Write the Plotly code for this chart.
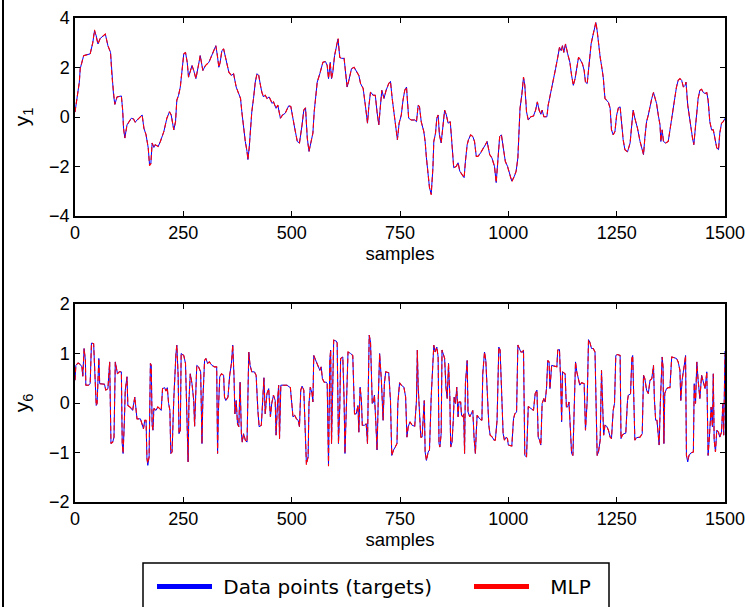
import plotly.graph_objects as go

W, H = 746, 607

# ---------------- data: y1 (top) ----------------
s1 = [0,5,10,12,20,35,41,45,49,53,58,70,76,82,85,89,92,97,107,110,112,115,120,130,135,139,147,155,159,164,169,172,175,178,182,185,192,197,205,212,218,222,228,232,235,239,243,247,251,255,259,262,266,270,274,279,284,289,295,301,309,316,322,325,328,332,335,339,343,348,355,361,366,372,378,382,385,389,393,397,399,402,405,408,412,416,420,424,428,431,435,439,443,448,455,458,464,468,474,479,485,493,498,501,507,513,518,524,528,532,536,540,545,549,552,555,559,565,572,578,582,585,589,592,595,599,603,607,611,615,621,625,628,632,638,644,649,655,659,665,670,675,678,682,688,693,697,701,705,708,713,718,724,728,732,736,739,744,748,753,757,761,765,767,770,776,784,788,792,795,799,805,808,811,815,818,822,826,828,832,835,838,841,845,849,853,857,861,866,870,874,880,884,888,893,898,901,905,908,913,918,922,926,930,936,941,947,951,957,962,968,972,976,980,984,988,993,998,1004,1008,1014,1018,1022,1025,1027,1031,1035,1038,1042,1046,1052,1058,1063,1067,1071,1075,1078,1082,1089,1092,1098,1104,1109,1114,1118,1122,1125,1128,1132,1137,1142,1146,1150,1154,1158,1162,1165,1171,1175,1178,1182,1186,1191,1195,1198,1202,1205,1208,1212,1215,1219,1223,1231,1235,1238,1242,1246,1250,1254,1258,1262,1265,1269,1275,1281,1285,1288,1292,1298,1304,1308,1312,1315,1319,1323,1327,1331,1335,1338,1342,1346,1350,1352,1355,1358,1363,1369,1373,1377,1381,1385,1388,1392,1396,1400,1404,1408,1410,1414,1418,1421,1425,1428,1432,1435,1438,1442,1446,1450,1454,1458,1461,1465,1469,1473,1477,1481,1485,1488,1492,1496,1500]
y1_target = [0.2,0.88,1.41,1.95,2.48,2.55,3.0,3.48,3.28,2.95,3.17,3.35,2.88,2.61,1.68,0.88,0.51,0.81,0.85,0.28,-0.45,-0.85,-0.32,-0.05,-0.08,-0.21,-0.05,0.08,-0.45,-0.72,-1.25,-1.92,-1.89,-1.05,-1.23,-1.12,-1.19,-0.99,-0.59,-0.05,0.21,0.08,-0.52,-0.19,0.68,0.88,1.21,1.95,2.55,2.61,2.21,1.61,1.81,2.08,1.88,1.55,2.01,2.48,1.88,2.08,2.21,2.48,2.75,2.88,2.55,2.01,2.21,2.68,2.75,2.35,1.81,1.68,1.75,1.21,0.88,0.75,0.21,-0.52,-0.99,-1.39,-1.72,-1.25,-0.32,0.21,0.75,1.41,1.75,1.68,1.28,1.01,0.81,0.88,0.75,0.81,0.55,0.61,0.35,0.48,-0.05,0.08,0.15,0.45,0.43,0.08,-0.45,-0.99,-1.05,-0.32,0.28,0.37,-0.85,-1.39,-0.92,-0.65,0.21,0.88,1.41,1.75,2.21,2.24,2.08,1.55,2.21,1.55,1.81,2.48,2.88,3.15,2.41,2.37,2.37,1.55,1.21,1.48,1.95,2.01,1.88,1.68,1.35,1.15,0.48,-0.25,0.41,1.01,0.88,0.88,0.21,-0.32,0.48,1.08,0.75,1.08,1.35,1.44,0.75,0.15,-0.32,-0.92,-0.25,0.08,0.68,1.08,1.21,0.61,-0.05,-0.12,-0.12,-0.19,0.48,0.41,-0.19,-0.59,-0.99,-1.65,-2.45,-2.85,-3.12,-2.05,-0.99,-0.65,-0.05,0.08,-0.72,-1.05,-0.39,0.28,0.08,-0.25,-0.19,-1.25,-2.05,-1.99,-1.85,-2.19,-2.32,-2.45,-1.79,-1.12,-0.92,-0.72,-0.79,-0.99,-1.59,-1.59,-1.45,-1.32,-1.12,-0.99,-1.52,-1.65,-1.99,-2.65,-1.79,-0.79,-0.72,-1.12,-1.79,-1.99,-2.39,-2.59,-2.39,-2.19,-1.65,-0.45,0.35,0.88,1.61,1.28,0.21,-0.12,0.01,0.04,0.28,0.61,0.28,0.11,0.28,0.01,0.01,0.48,0.95,1.55,1.95,2.41,2.81,2.68,2.88,2.61,2.95,2.55,2.21,1.68,1.28,1.55,2.08,2.41,2.35,2.15,1.88,1.41,1.35,2.21,2.95,3.28,3.55,3.81,3.48,2.88,2.41,2.08,1.61,0.75,0.59,0.35,-0.52,-0.72,-0.59,0.08,0.37,0.41,-0.32,-0.92,-1.32,-1.41,-1.05,-0.32,0.28,-0.05,-0.45,-0.99,-1.32,-1.52,-0.85,-0.19,0.08,0.48,0.75,0.99,0.81,0.55,0.08,-0.32,-0.99,-0.52,-0.99,-1.05,-0.99,-0.52,-0.12,0.21,0.75,1.21,1.48,1.55,1.48,1.21,1.28,1.41,0.48,-0.05,-0.45,-0.85,-1.12,-0.32,0.35,0.75,1.08,1.12,0.99,0.95,0.99,0.68,-0.19,-0.52,-0.52,-0.85,-1.25,-1.32,-0.65,-0.25,-0.19,-0.05]
# MLP output differs from targets only at a few visible points
y1_mlp_changes = {45: 3.52, 172: -1.97, 607: 3.18, 822: -3.15, 1008: -2.62, 1202: 3.84}

# ---------------- data: y6 (bottom) ----------------
s6 = [0,2,7,12,16,18,21,24,25,31,35,38,43,47,49,51,55,57,68,71,76,80,83,87,90,93,98,102,107,109,111,114,116,120,122,128,133,138,141,143,151,155,158,161,164,166,168,171,174,176,178,180,182,187,191,195,199,202,207,210,213,216,219,221,224,228,230,233,235,238,240,243,245,251,255,258,261,263,266,270,274,276,279,281,285,290,293,295,299,302,306,310,316,322,327,329,331,334,338,343,345,348,353,357,361,364,367,369,372,375,378,381,384,386,389,393,397,401,404,408,414,418,422,425,430,433,436,439,443,447,451,454,458,462,464,468,470,472,475,481,489,497,501,503,507,511,515,518,521,524,528,531,534,538,540,543,547,549,551,557,561,565,568,571,575,580,582,585,588,590,592,595,597,603,605,608,611,613,618,621,623,626,630,636,641,645,649,653,655,658,661,663,668,672,675,677,679,682,684,686,689,691,694,697,700,703,707,711,714,717,724,728,731,735,739,743,745,749,753,759,763,766,769,773,778,784,788,790,792,795,798,801,804,806,808,811,815,818,822,826,828,831,835,838,840,842,845,847,850,853,856,859,862,865,867,870,873,875,878,881,884,886,890,892,895,897,899,901,905,907,911,915,918,921,924,926,928,934,939,941,945,948,950,953,955,958,963,967,970,974,978,981,984,988,991,995,998,1000,1008,1012,1015,1019,1022,1025,1029,1033,1035,1038,1042,1046,1052,1058,1062,1066,1069,1072,1075,1078,1082,1085,1088,1091,1094,1096,1100,1106,1112,1114,1118,1121,1123,1125,1131,1134,1137,1140,1143,1146,1149,1152,1155,1158,1162,1165,1169,1175,1178,1182,1185,1188,1192,1196,1200,1203,1205,1208,1212,1215,1218,1220,1223,1227,1231,1235,1238,1242,1245,1248,1252,1258,1260,1263,1267,1271,1275,1277,1282,1285,1287,1289,1292,1296,1304,1309,1312,1315,1319,1323,1327,1331,1335,1337,1340,1343,1346,1348,1351,1355,1357,1359,1361,1365,1369,1373,1377,1383,1388,1392,1396,1398,1401,1406,1409,1411,1414,1417,1421,1427,1429,1432,1435,1438,1442,1446,1450,1454,1458,1461,1464,1468,1471,1473,1475,1478,1481,1485,1488,1492,1495,1497,1500]
y6_target = [0.46,0.76,0.81,0.78,0.73,0.54,1.10,0.86,0.36,0.36,0.39,1.21,1.2,0.39,-0.05,-0.01,0.9,0.39,0.38,0.26,0.29,0.83,-0.82,-0.79,-0.69,0.83,0.59,0.63,0.63,-0.82,-1.02,-0.35,0.26,0.53,-0.05,-0.09,-0.15,0.12,-0.15,-0.32,-0.32,-0.42,-0.52,-0.35,-0.35,-1.12,-1.26,-1.09,0.8,0.76,-0.45,-0.55,-0.11,-0.15,-0.08,-0.11,-0.15,0.29,0.31,0.24,0.31,-0.01,-0.15,-1.02,-0.99,0.09,0.59,1.0,1.17,0.56,-0.62,-0.55,1.0,0.96,0.8,-0.55,-1.19,0.05,0.59,0.39,0.05,-0.47,0.39,0.76,0.73,0.63,-0.82,0.05,0.86,0.9,0.8,0.83,0.76,0.73,0.73,-1.02,-0.15,0.53,0.59,0.56,0.12,0.05,0.12,0.56,0.8,1.17,0.53,-0.22,0.05,-0.42,-0.48,0.42,-0.62,-0.79,-0.62,-0.75,-0.79,1.03,0.76,0.63,0.63,0.56,-0.15,-0.48,-0.45,0.19,0.51,-0.22,0.19,0.29,-0.28,-0.01,0.16,0.05,-0.65,0.12,0.36,-0.72,0.36,0.36,0.36,0.31,-0.08,-0.28,-0.25,-0.32,-0.35,-0.48,0.26,0.34,0.26,-0.62,-1.22,-1.09,-0.01,0.32,0.19,0.02,0.96,0.83,0.76,0.66,0.73,0.49,0.42,0.42,0.39,-1.26,0.86,1.07,-0.82,0.19,1.27,1.25,1.21,-0.82,-0.08,0.9,0.93,0.05,-1.02,-0.15,1.03,1.0,0.96,-0.22,-0.22,-0.05,-0.59,0.32,0.05,-0.45,-0.45,-0.42,-0.82,0.39,1.37,1.23,0.76,-0.01,0.02,0.16,-0.35,-0.95,0.12,1.0,0.46,-0.35,0.39,0.63,0.61,0.05,-1.06,-0.95,-0.89,-0.82,-0.01,0.41,0.36,0.32,0.12,-0.69,-0.48,-0.38,-0.45,-0.47,0.05,1.07,0.32,-0.25,-0.69,-0.69,-0.22,0.05,-0.99,-1.16,-0.99,-0.95,0.12,1.0,1.17,1.03,1.13,0.93,-0.82,-0.89,-0.62,1.07,1.0,0.9,0.32,0.09,0.8,0.12,-0.89,-0.79,-0.35,0.12,-0.01,0.32,-0.28,0.02,0.02,-0.25,-0.28,-0.22,-1.02,0.39,0.86,-0.18,-0.28,-0.22,-0.15,-0.72,-1.02,-0.59,-0.25,-0.32,-0.35,0.59,1.03,0.86,0.39,-0.08,-0.45,-0.65,-0.69,-0.75,-0.75,-0.35,1.13,1.07,0.32,-0.62,-0.75,-0.69,-0.72,-0.85,-0.87,-0.32,-0.22,-0.18,1.17,1.1,1.03,1.03,1.07,-1.06,-1.09,-0.07,-0.11,-0.15,0.19,0.26,-0.69,-0.75,-0.85,-0.01,0.09,0.02,0.29,0.86,0.83,0.29,0.76,0.74,0.73,1.07,1.08,0.39,-0.38,0.63,0.59,-0.08,-0.08,0.02,-0.45,-1.02,-1.06,0.19,0.83,0.63,0.46,0.36,0.41,0.39,-0.55,0.05,1.28,1.23,1.1,1.1,1.03,0.05,-1.06,-0.99,-0.75,0.66,-0.28,-0.65,-0.45,-0.47,-0.55,-0.69,-0.72,-0.15,-0.01,0.96,0.98,0.96,-0.72,-0.65,-0.62,-0.61,0.05,0.16,0.18,0.9,0.96,0.29,-0.75,-0.7,-0.69,-0.62,0.56,0.49,0.26,0.19,0.46,0.49,0.76,0.09,-0.35,-0.35,-0.69,-0.85,0.05,0.93,0.73,-0.82,0.19,0.29,0.31,0.31,0.93,0.92,0.9,0.83,0.66,0.05,0.46,0.76,0.96,-1.06,-1.19,-1.06,-1.01,-0.99,0.39,-0.01,0.83,0.46,0.09,0.56,0.39,0.29,0.63,-1.06,-0.69,-0.08,-0.48,0.59,-0.75,-0.99,-0.55,-0.59,-0.69,-0.59,-0.01,-0.65,1.05]
y6_mlp_changes = {168: -1.22, 534: -1.25, 585: -1.28, 1414: -1.15, 1500: 0.98}

y1_mlp = [y1_mlp_changes.get(s, v) for s, v in zip(s1, y1_target)]
y6_mlp = [y6_mlp_changes.get(s, v) for s, v in zip(s6, y6_target)]

x_ticks = [0, 250, 500, 750, 1000, 1250, 1500]
y1_ticks = [-4, -2, 0, 2, 4]
y6_ticks = [-2, -1, 0, 1, 2]
legend_names = ["\u00a0Data points (targets)", "\u2002\u00a0MLP"]

BLUE = "#0000FF"
RED = "#FF0000"
SANS = "Liberation Sans, Arial, sans-serif"
TICKFONT = dict(family=SANS, size=18, color="black")

fig = go.Figure()

for xs, ys, ym, xa, ya in [(s1, y1_target, y1_mlp, "x", "y"), (s6, y6_target, y6_mlp, "x2", "y2")]:
    fig.add_trace(go.Scatter(x=xs, y=ys, mode="lines", line=dict(color=BLUE, width=1),
                             xaxis=xa, yaxis=ya, showlegend=False, hoverinfo="skip"))
    fig.add_trace(go.Scatter(x=xs, y=ym, mode="lines", line=dict(color=RED, width=1.1, dash="5px,3px"),
                             xaxis=xa, yaxis=ya, showlegend=False, hoverinfo="skip"))

# legend entries
fig.add_trace(go.Scatter(x=[None], y=[None], mode="lines", name=legend_names[0],
                         line=dict(color=BLUE, width=5), xaxis="x2", yaxis="y2"))
fig.add_trace(go.Scatter(x=[None], y=[None], mode="lines", name=legend_names[1],
                         line=dict(color=RED, width=5), xaxis="x2", yaxis="y2"))

xl, xr = 75 / W, 725 / W
top_dom = [1 - 216 / H, 1 - 18 / H]
bot_dom = [1 - 502 / H, 1 - 304 / H]

common_axis = dict(showline=True, linecolor="black", linewidth=1.5, mirror="ticks",
                   ticks="inside", ticklen=5, tickwidth=1, tickcolor="black",
                   showgrid=False, zeroline=False, tickfont=TICKFONT)

xtitle = dict(text="samples", font=dict(family=SANS, size=18.5, color="black"), standoff=3)

fig.update_layout(
    width=W, height=H,
    margin=dict(l=0, r=0, t=0, b=0, autoexpand=False),
    paper_bgcolor="white", plot_bgcolor="white",
    xaxis=dict(domain=[xl, xr], anchor="y", range=[0, 1500], tickvals=x_ticks, title=xtitle, **common_axis),
    yaxis=dict(domain=top_dom, anchor="x", range=[-4, 4], tickvals=y1_ticks,
               title=dict(text="y<sub>1</sub>", font=dict(family=SANS, size=21, color="black"), standoff=14),
               **common_axis),
    xaxis2=dict(domain=[xl, xr], anchor="y2", range=[0, 1500], tickvals=x_ticks, title=xtitle, **common_axis),
    yaxis2=dict(domain=bot_dom, anchor="x2", range=[-2, 2], tickvals=y6_ticks,
                title=dict(text="y<sub>6</sub>", font=dict(family=SANS, size=21, color="black"), standoff=14),
                **common_axis),
    legend=dict(orientation="h", x=152 / W, y=1 - 567 / H, xanchor="left", yanchor="top",
                borderwidth=0, bgcolor="rgba(0,0,0,0)",
                font=dict(family="DejaVu Sans", size=20, color="black"),
                itemwidth=55, entrywidth=247, tracegroupgap=0),
    shapes=[
        dict(type="line", xref="paper", yref="paper", x0=3 / W, x1=3 / W, y0=0, y1=1,
             line=dict(color="black", width=2)),
        dict(type="rect", xref="paper", yref="paper", x0=143 / W, x1=609 / W,
             y0=1 - 640 / H, y1=1 - 563 / H, line=dict(color="black", width=1.5),
             fillcolor="rgba(0,0,0,0)", layer="below"),
    ],
)

fig.write_html("out.html")
